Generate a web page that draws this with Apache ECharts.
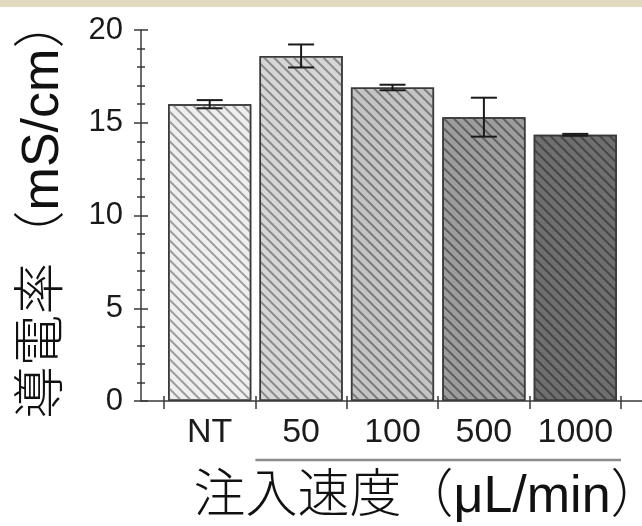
<!DOCTYPE html>
<html>
<head>
<meta charset="utf-8">
<script src="https://cdn.jsdelivr.net/npm/echarts@6/dist/echarts.min.js"></script>
<style>
html,body{margin:0;padding:0;background:#fff;}
#chart{width:642px;height:526px;}
</style>
</head>
<body>
<div id="chart"></div>
<script>
// ---- data ----
const categories = ['NT', '50', '100', '500', '1000'];
const conductivity = [16.0, 18.6, 16.9, 15.3, 14.35];
const errorSD = [0.22, 0.62, 0.15, 1.05, 0.05];
const barFill = ['#efefef', '#d6d6d6', '#c4c4c4', '#9d9d9d', '#6f6f6f'];
const hatchColor = ['#9c9c9c', '#8a8a8a', '#7a7a7a', '#5e5e5e', '#454545'];
const yMin = 0, yMax = 20, yStep = 5;
const yTitle = '導電率（mS/cm）';
const xTitle = '注入速度（μL/min）';

const FONT = '"Liberation Sans", Arial, "Noto Sans CJK JP", sans-serif';
const GRID_TOP = 30, GRID_BOTTOM = 125;

const chart = echarts.init(document.getElementById('chart'), null, {renderer: 'canvas'});

const barData = conductivity.map((v, i) => ({
  value: v,
  itemStyle: {
    color: barFill[i],
    borderColor: '#3a3a3a',
    borderWidth: 1.5,
    decal: {
      symbol: 'rect',
      symbolSize: 1,
      dashArrayX: [1, 0],
      dashArrayY: [2, 4.4],
      rotation: Math.PI / 4,
      color: hatchColor[i]
    }
  }
}));

const errData = conductivity.map((v, i) => [i, v, errorSD[i]]);

const option = {
  animation: false,
  backgroundColor: '#ffffff',
  grid: [
    {left: 164, right: 21, top: GRID_TOP, bottom: GRID_BOTTOM, containLabel: false, outerBoundsMode: 'none'},
    {left: 141, right: 0, top: GRID_TOP, bottom: GRID_BOTTOM, containLabel: false, outerBoundsMode: 'none'}
  ],
  xAxis: [
    { // category axis for bars (ticks outside, labels)
      type: 'category', gridIndex: 0, data: categories, position: 'bottom',
      boundaryGap: true,
      axisLine: {show: false},
      axisTick: {show: true, length: 8, lineStyle: {color: '#3a3a3a', width: 1.5}},
      axisLabel: {fontFamily: FONT, fontSize: 34, color: '#1c1c1c', margin: 15, interval: 0, hideOverlap: false},
      splitLine: {show: false}
    },
    { // same categories, inside ticks only
      type: 'category', gridIndex: 0, data: categories, position: 'bottom',
      boundaryGap: true,
      axisLine: {show: false},
      axisTick: {show: true, inside: true, length: 5, lineStyle: {color: '#3a3a3a', width: 1.5}},
      axisLabel: {show: false},
      splitLine: {show: false}
    },
    { // long baseline from y-axis to right edge, carries title
      type: 'value', gridIndex: 1, min: 0, max: 1, position: 'bottom',
      axisLine: {show: true, lineStyle: {color: '#3a3a3a', width: 1.5}},
      axisTick: {show: false}, axisLabel: {show: false}, splitLine: {show: false},
      name: xTitle, nameLocation: 'middle', nameGap: 71,
      nameTextStyle: {fontFamily: FONT, fontSize: 52, fontWeight: 300, color: '#111', padding: [0, 0, 0, 73]}
    }
  ],
  yAxis: [
    { // hidden scale for bars
      type: 'value', gridIndex: 0, min: yMin, max: yMax, interval: yStep, show: false
    },
    { // visible y axis with labels, outside ticks
      type: 'value', gridIndex: 1, min: yMin, max: yMax, interval: yStep, position: 'left',
      axisLine: {show: true, lineStyle: {color: '#3a3a3a', width: 1.5}},
      axisTick: {show: true, length: 7, lineStyle: {color: '#3a3a3a', width: 1.5}},
      minorTick: {show: true, splitNumber: 5, length: 4, lineStyle: {color: '#3a3a3a', width: 1.5}},
      axisLabel: {fontFamily: FONT, fontSize: 31, color: '#1a1a1a', margin: 18},
      splitLine: {show: false},
      name: yTitle, nameLocation: 'middle', nameGap: 71,
      nameTextStyle: {fontFamily: FONT, fontSize: 52, fontWeight: 300, color: '#111', padding: [0, 0, 0, 16]}
    },
    { // inside ticks
      type: 'value', gridIndex: 1, min: yMin, max: yMax, interval: yStep, position: 'left',
      axisLine: {show: false},
      axisTick: {show: true, inside: true, length: 7, lineStyle: {color: '#3a3a3a', width: 1.5}},
      minorTick: {show: true, splitNumber: 5, length: 4, lineStyle: {color: '#3a3a3a', width: 1.5}},
      axisLabel: {show: false}, splitLine: {show: false}
    }
  ],
  series: [
    {
      type: 'bar', xAxisIndex: 0, yAxisIndex: 0,
      data: barData, barCategoryGap: '9%', z: 2
    },
    {
      type: 'custom', xAxisIndex: 0, yAxisIndex: 0, z: 5,
      data: errData,
      renderItem: function (params, api) {
        const x = api.value(0), v = api.value(1), e = api.value(2);
        const hi = api.coord([x, v + e]);
        const lo = api.coord([x, v - e]);
        const hw = 13;
        const st = {stroke: '#1a1a1a', lineWidth: 2};
        return {
          type: 'group',
          children: [
            {type: 'line', shape: {x1: hi[0], y1: hi[1], x2: lo[0], y2: lo[1]}, style: st},
            {type: 'line', shape: {x1: hi[0] - hw, y1: hi[1], x2: hi[0] + hw, y2: hi[1]}, style: st},
            {type: 'line', shape: {x1: lo[0] - hw, y1: lo[1], x2: lo[0] + hw, y2: lo[1]}, style: st}
          ]
        };
      }
    }
  ],
  graphic: [
    {type: 'rect', id: 'band', left: 0, top: 0, shape: {width: 642, height: 7}, style: {fill: '#e1dac1'}, silent: true}
  ]
};

chart.setOption(option);

// bracket under the injection-rate groups (50 … 1000)
const c1 = chart.convertToPixel({xAxisIndex: 0}, categories[1]);
const c2 = chart.convertToPixel({xAxisIndex: 0}, categories[2]);
const cLast = chart.convertToPixel({xAxisIndex: 0}, categories[categories.length - 1]);
const half = (c2 - c1) / 2;
const baseY = chart.convertToPixel({yAxisIndex: 0}, yMin);
chart.setOption({
  graphic: [
    {type: 'rect', id: 'band', left: 0, top: 0, shape: {width: 642, height: 7}, style: {fill: '#e1dac1'}, silent: true},
    {type: 'line', id: 'bracket', shape: {x1: c1 - half, y1: baseY + 59, x2: cLast + half, y2: baseY + 59},
     style: {stroke: '#8c8c8c', lineWidth: 2.5}, silent: true}
  ]
});
</script>
</body>
</html>
